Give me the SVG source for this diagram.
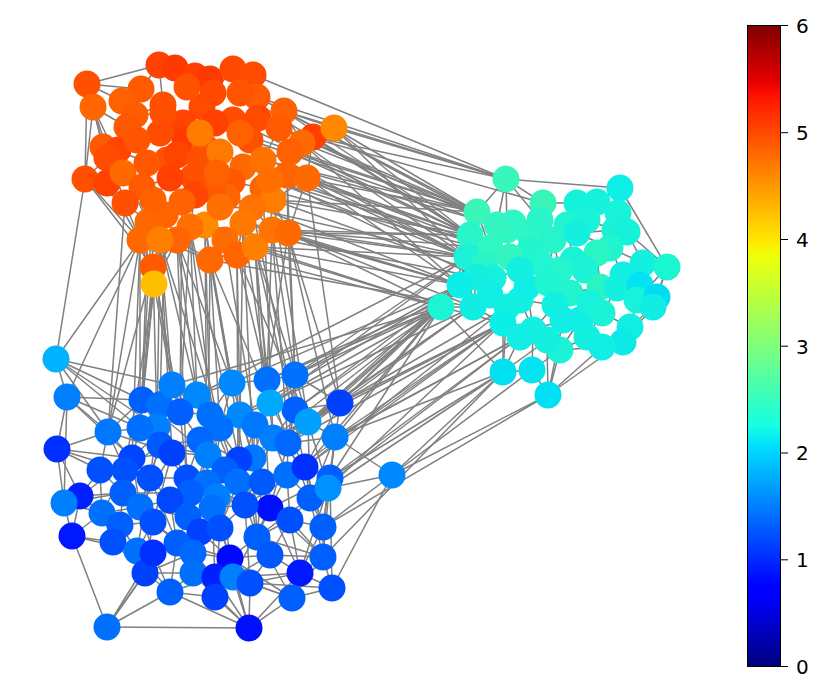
<svg xmlns="http://www.w3.org/2000/svg" width="830" height="699" viewBox="0 0 830 699">
<style>
#edges path{stroke:#808080;stroke-width:1.5;fill:none}
.n circle{stroke:none}
.tick{stroke:#000;stroke-width:1}
.lbl{font-family:"DejaVu Sans","Liberation Sans",sans-serif;font-size:20px;fill:#000}
</style>
<defs>
<linearGradient id="jet" x1="0" y1="1" x2="0" y2="0">
<stop offset="0" stop-color="#00007F"/>
<stop offset="0.11" stop-color="#0000FF"/>
<stop offset="0.125" stop-color="#0000FF"/>
<stop offset="0.34" stop-color="#00DBFF"/>
<stop offset="0.375" stop-color="#14FFE2"/>
<stop offset="0.5" stop-color="#7DFF7A"/>
<stop offset="0.64" stop-color="#EEFF08"/>
<stop offset="0.66" stop-color="#FFEC00"/>
<stop offset="0.89" stop-color="#FF1300"/>
<stop offset="0.91" stop-color="#E80000"/>
<stop offset="1" stop-color="#7F0000"/>
</linearGradient>
</defs>
<rect width="830" height="699" fill="#fff"/>
<g id="edges">
<path d="M87,84L159,65"/><path d="M87,84L141,89"/><path d="M87,84L85,179"/><path d="M87,84L122,101"/><path d="M93,107L127,127"/><path d="M93,107L103,147"/><path d="M159,65L175,68"/><path d="M159,65L141,89"/><path d="M175,68L187,87"/><path d="M195,76L210,79"/><path d="M210,79L213,93"/><path d="M233,69L253,75"/><path d="M233,69L240,93"/><path d="M253,75L257,97"/><path d="M257,97L284,111"/><path d="M284,111L279,128"/><path d="M284,111L334,128"/><path d="M334,128L313,137"/><path d="M313,137L307,178"/><path d="M302,143L287,175"/><path d="M279,128L263,160"/><path d="M85,179L107,183"/><path d="M107,183L125,203"/><path d="M125,203L148,222"/><path d="M148,222L140,240"/><path d="M140,240L153,267"/><path d="M153,267L154,284"/><path d="M154,284L160,240"/><path d="M153,267L177,240"/><path d="M93,107L125,203"/><path d="M93,107L148,222"/><path d="M85,179L140,240"/><path d="M85,179L153,267"/><path d="M107,158L85,179"/><path d="M307,178L288,233"/><path d="M288,233L273,200"/><path d="M237,255L272,230"/><path d="M210,260L205,225"/><path d="M237,255L243,223"/><path d="M255,247L288,233"/>
<path d="M185,140L183,123"/><path d="M185,140L160,133"/><path d="M185,140L200,133"/><path d="M185,140L177,155"/><path d="M185,140L205,147"/><path d="M185,140L167,160"/><path d="M170,178L193,177"/><path d="M170,178L167,160"/><path d="M170,178L142,187"/><path d="M170,178L153,200"/><path d="M170,178L182,202"/><path d="M200,160L205,147"/><path d="M200,160L220,152"/><path d="M200,160L193,177"/><path d="M200,160L217,173"/><path d="M200,160L177,155"/><path d="M232,182L217,173"/><path d="M232,182L243,167"/><path d="M232,182L227,197"/><path d="M232,182L263,188"/><path d="M232,182L212,190"/><path d="M252,208L273,200"/><path d="M252,208L243,223"/><path d="M252,208L220,207"/><path d="M252,208L227,197"/><path d="M252,208L272,230"/><path d="M290,152L302,143"/><path d="M290,152L263,160"/><path d="M290,152L287,175"/><path d="M290,152L279,128"/><path d="M290,152L313,137"/><path d="M258,118L257,97"/><path d="M258,118L279,128"/><path d="M258,118L233,120"/><path d="M258,118L250,140"/><path d="M258,118L240,133"/><path d="M135,115L122,101"/><path d="M135,115L127,127"/><path d="M135,115L141,89"/><path d="M135,115L163,113"/><path d="M135,115L163,105"/><path d="M118,150L103,147"/><path d="M118,150L137,140"/><path d="M118,150L107,158"/><path d="M118,150L123,173"/><path d="M118,150L147,163"/><path d="M195,195L182,202"/><path d="M195,195L212,190"/><path d="M195,195L193,177"/><path d="M195,195L190,227"/><path d="M195,195L220,207"/><path d="M165,215L153,200"/><path d="M165,215L148,222"/><path d="M165,215L160,240"/><path d="M165,215L177,240"/><path d="M165,215L182,202"/><path d="M225,240L205,225"/><path d="M225,240L243,223"/><path d="M225,240L237,255"/><path d="M225,240L210,260"/><path d="M225,240L190,227"/><path d="M87,84L103,147"/><path d="M93,107L85,179"/><path d="M122,101L123,173"/><path d="M141,89L127,127"/><path d="M159,65L163,105"/><path d="M175,68L202,107"/><path d="M210,79L202,107"/><path d="M253,75L240,93"/><path d="M233,69L213,93"/><path d="M284,111L302,143"/><path d="M334,128L302,143"/><path d="M313,137L287,175"/><path d="M307,178L273,200"/><path d="M287,175L288,233"/><path d="M270,180L272,230"/><path d="M263,188L243,223"/><path d="M288,233L255,247"/><path d="M272,230L237,255"/><path d="M255,247L210,260"/><path d="M160,240L140,240"/><path d="M177,240L210,260"/><path d="M148,222L160,240"/><path d="M125,203L140,240"/><path d="M107,183L140,240"/><path d="M142,187L148,222"/><path d="M85,179L125,203"/><path d="M154,284L140,240"/><path d="M154,284L177,240"/><path d="M153,267L160,240"/><path d="M153,267L190,227"/><path d="M210,260L160,240"/>
<path d="M334,128L506,179"/><path d="M334,128L477,212"/><path d="M334,128L470,235"/><path d="M334,128L467,257"/><path d="M284,111L506,179"/><path d="M284,111L477,212"/><path d="M313,137L470,235"/><path d="M313,137L490,248"/><path d="M302,143L467,257"/><path d="M302,143L460,285"/><path d="M287,175L477,212"/><path d="M287,175L470,235"/><path d="M307,178L490,248"/><path d="M307,178L467,257"/><path d="M307,178L460,285"/><path d="M288,233L470,235"/><path d="M288,233L467,257"/><path d="M288,233L441,307"/><path d="M272,230L490,248"/><path d="M272,230L460,285"/><path d="M273,200L477,212"/><path d="M273,200L493,278"/><path d="M243,223L467,257"/><path d="M255,247L441,307"/><path d="M255,247L460,285"/><path d="M279,128L507,230"/><path d="M253,75L506,179"/><path d="M263,160L497,225"/><path d="M243,167L490,248"/><path d="M263,188L510,257"/><path d="M250,140L507,230"/><path d="M240,133L477,212"/><path d="M233,120L470,235"/><path d="M270,180L467,257"/><path d="M220,152L477,277"/><path d="M212,190L460,285"/><path d="M237,255L441,307"/><path d="M210,260L473,307"/><path d="M205,225L477,277"/><path d="M202,107L543,203"/><path d="M240,93L470,235"/><path d="M215,123L467,257"/><path d="M257,97L506,179"/><path d="M284,111L497,225"/><path d="M288,233L473,307"/>
<path d="M290,152L477,212"/><path d="M290,152L470,235"/><path d="M302,143L477,212"/><path d="M313,137L506,179"/><path d="M307,178L470,235"/><path d="M287,175L467,257"/><path d="M273,200L470,235"/><path d="M252,208L467,257"/><path d="M288,233L460,285"/><path d="M272,230L470,235"/><path d="M263,160L477,212"/><path d="M270,180L490,248"/><path d="M284,111L470,235"/><path d="M279,128L477,212"/><path d="M255,247L467,257"/><path d="M225,240L441,307"/><path d="M243,223L460,285"/>
<path d="M154,284L172,385"/><path d="M154,284L142,400"/><path d="M153,267L157,427"/><path d="M153,267L108,432"/><path d="M140,240L56,359"/><path d="M140,240L67,397"/><path d="M85,179L56,359"/><path d="M160,240L172,385"/><path d="M160,240L197,395"/><path d="M177,240L232,383"/><path d="M190,227L197,395"/><path d="M210,260L232,383"/><path d="M210,260L270,403"/><path d="M237,255L267,380"/><path d="M255,247L295,375"/><path d="M255,247L270,403"/><path d="M272,230L295,375"/><path d="M288,233L340,403"/><path d="M288,233L267,380"/><path d="M243,223L240,415"/><path d="M205,225L210,415"/><path d="M182,202L180,412"/><path d="M148,222L142,400"/><path d="M153,200L140,428"/><path d="M140,240L140,428"/><path d="M153,267L180,412"/><path d="M177,240L220,428"/><path d="M237,255L308,422"/><path d="M273,200L308,422"/><path d="M272,230L288,443"/><path d="M190,227L239,460"/><path d="M210,260L208,455"/><path d="M160,240L172,453"/><path d="M140,240L132,458"/><path d="M243,223L253,458"/><path d="M255,247L305,467"/><path d="M288,233L335,437"/><path d="M154,284L125,470"/><path d="M160,240L245,505"/><path d="M177,240L187,478"/><path d="M210,260L257,537"/><path d="M190,227L230,558"/><path d="M255,247L270,508"/><path d="M125,203L108,432"/><path d="M307,178L340,403"/><path d="M287,175L295,375"/><path d="M263,188L273,438"/><path d="M237,255L238,482"/><path d="M205,225L207,483"/>
<path d="M165,215L160,405"/><path d="M225,240L255,425"/><path d="M252,208L295,410"/><path d="M237,255L240,415"/><path d="M210,260L220,428"/><path d="M255,247L267,380"/><path d="M272,230L267,380"/><path d="M153,267L142,400"/><path d="M154,284L140,428"/><path d="M160,240L157,427"/><path d="M177,240L197,395"/><path d="M190,227L180,412"/><path d="M205,225L232,383"/><path d="M288,233L295,375"/><path d="M243,223L270,403"/><path d="M140,240L108,432"/><path d="M148,222L172,385"/>
<path d="M295,375L441,307"/><path d="M295,375L460,285"/><path d="M340,403L441,307"/><path d="M340,403L473,307"/><path d="M340,403L503,323"/><path d="M335,437L441,307"/><path d="M335,437L503,323"/><path d="M335,437L503,372"/><path d="M308,422L460,285"/><path d="M308,422L473,307"/><path d="M305,467L503,323"/><path d="M305,467L441,307"/><path d="M330,478L503,372"/><path d="M330,478L520,337"/><path d="M392,475L503,372"/><path d="M392,475L548,395"/><path d="M392,475L532,370"/><path d="M267,380L441,307"/><path d="M267,380L493,278"/><path d="M270,403L467,257"/><path d="M270,403L473,307"/><path d="M273,438L441,307"/><path d="M288,443L503,323"/><path d="M328,488L503,372"/><path d="M310,498L520,337"/><path d="M232,383L460,285"/><path d="M197,395L467,257"/><path d="M323,527L548,395"/><path d="M323,557L503,372"/><path d="M330,478L441,307"/><path d="M340,403L460,285"/><path d="M305,467L507,307"/><path d="M335,437L533,330"/><path d="M288,443L441,307"/><path d="M308,422L503,323"/><path d="M328,488L503,323"/><path d="M172,385L441,307"/><path d="M240,415L477,277"/><path d="M253,458L473,307"/>
<path d="M295,410L441,307"/><path d="M295,410L460,285"/><path d="M287,475L503,323"/><path d="M340,403L507,307"/><path d="M335,437L520,337"/><path d="M308,422L441,307"/><path d="M295,375L467,257"/><path d="M270,403L441,307"/>
<path d="M506,179L620,188"/><path d="M506,179L477,212"/><path d="M506,179L543,203"/><path d="M506,179L540,220"/><path d="M506,179L497,225"/><path d="M620,188L618,213"/><path d="M620,188L667,267"/><path d="M620,188L597,202"/><path d="M620,188L627,232"/><path d="M477,212L470,235"/><path d="M477,212L497,225"/><path d="M477,212L467,257"/><path d="M543,203L577,203"/><path d="M577,203L597,202"/><path d="M597,202L618,213"/><path d="M618,213L627,232"/><path d="M627,232L643,263"/><path d="M627,232L667,267"/><path d="M567,225L587,220"/><path d="M587,220L577,233"/><path d="M470,235L467,257"/><path d="M470,235L490,248"/><path d="M507,230L530,235"/><path d="M507,230L510,257"/><path d="M530,235L553,240"/><path d="M553,240L567,225"/><path d="M553,240L548,283"/><path d="M490,248L510,257"/><path d="M510,257L520,270"/><path d="M467,257L460,285"/><path d="M467,257L441,307"/><path d="M610,248L643,263"/><path d="M643,263L667,267"/><path d="M667,267L657,297"/><path d="M667,267L653,307"/><path d="M667,267L637,300"/><path d="M623,275L617,288"/><path d="M597,253L573,260"/><path d="M573,260L540,263"/><path d="M540,263L520,270"/><path d="M520,270L493,278"/><path d="M493,278L477,277"/><path d="M460,285L441,307"/><path d="M477,277L473,307"/><path d="M441,307L473,307"/><path d="M441,307L503,323"/><path d="M441,307L503,372"/><path d="M473,307L507,307"/><path d="M507,307L527,287"/><path d="M527,287L548,283"/><path d="M548,283L570,293"/><path d="M570,293L600,287"/><path d="M600,287L617,288"/><path d="M617,288L637,300"/><path d="M637,300L657,297"/><path d="M657,297L653,307"/><path d="M653,307L630,327"/><path d="M653,307L623,342"/><path d="M503,323L533,330"/><path d="M533,330L563,320"/><path d="M563,320L590,303"/><path d="M590,303L602,313"/><path d="M602,313L630,327"/><path d="M630,327L623,342"/><path d="M623,342L602,347"/><path d="M587,337L602,347"/><path d="M602,347L560,350"/><path d="M560,350L547,340"/><path d="M547,340L520,337"/><path d="M520,337L503,323"/><path d="M503,372L532,370"/><path d="M532,370L548,395"/><path d="M548,395L560,350"/><path d="M503,372L503,323"/><path d="M532,370L533,330"/><path d="M548,395L547,340"/><path d="M548,395L602,347"/><path d="M503,372L520,337"/><path d="M532,370L560,350"/><path d="M513,223L497,225"/><path d="M540,220L513,223"/><path d="M577,233L610,248"/><path d="M567,225L573,260"/><path d="M503,372L507,307"/><path d="M548,395L563,320"/><path d="M503,372L547,340"/><path d="M473,307L503,323"/><path d="M460,285L473,307"/><path d="M623,342L587,337"/>
<path d="M530,250L530,235"/><path d="M530,250L540,263"/><path d="M530,250L510,257"/><path d="M530,250L553,240"/><path d="M530,250L520,270"/><path d="M555,305L548,283"/><path d="M555,305L570,293"/><path d="M555,305L563,320"/><path d="M555,305L533,330"/><path d="M555,305L520,300"/><path d="M585,270L573,260"/><path d="M585,270L597,253"/><path d="M585,270L600,287"/><path d="M585,270L570,293"/><path d="M585,270L560,270"/><path d="M490,295L493,278"/><path d="M490,295L473,307"/><path d="M490,295L507,307"/><path d="M490,295L503,323"/><path d="M490,295L477,277"/><path d="M615,230L627,232"/><path d="M615,230L610,248"/><path d="M615,230L618,213"/><path d="M615,230L587,220"/><path d="M615,230L577,233"/><path d="M640,285L623,275"/><path d="M640,285L643,263"/><path d="M640,285L637,300"/><path d="M640,285L617,288"/><path d="M640,285L657,297"/><path d="M520,300L507,307"/><path d="M520,300L527,287"/><path d="M520,300L533,330"/><path d="M520,300L520,270"/><path d="M580,320L563,320"/><path d="M580,320L590,303"/><path d="M580,320L587,337"/><path d="M580,320L560,350"/><path d="M560,270L540,263"/><path d="M560,270L573,260"/><path d="M560,270L548,283"/><path d="M560,270L553,240"/><path d="M485,265L490,248"/><path d="M485,265L467,257"/><path d="M485,265L493,278"/><path d="M485,265L510,257"/><path d="M485,265L460,285"/><path d="M477,212L490,248"/><path d="M506,179L507,230"/><path d="M543,203L553,240"/><path d="M577,203L567,225"/><path d="M597,202L587,220"/><path d="M618,213L610,248"/><path d="M643,263L623,275"/><path d="M623,275L637,300"/><path d="M597,253L600,287"/><path d="M610,248L623,275"/><path d="M617,288L602,313"/><path d="M637,300L630,327"/><path d="M600,287L590,303"/><path d="M570,293L563,320"/><path d="M527,287L533,330"/><path d="M507,307L503,323"/><path d="M460,285L477,277"/><path d="M533,330L547,340"/><path d="M587,337L560,350"/><path d="M602,313L587,337"/><path d="M630,327L602,347"/><path d="M623,342L548,395"/><path d="M470,235L460,285"/><path d="M467,257L473,307"/>
<path d="M56,359L67,397"/><path d="M56,359L108,432"/><path d="M56,359L142,400"/><path d="M67,397L108,432"/><path d="M67,397L57,449"/><path d="M67,397L64,503"/><path d="M108,432L57,449"/><path d="M108,432L142,400"/><path d="M108,432L140,428"/><path d="M57,449L64,503"/><path d="M57,449L132,458"/><path d="M80,496L64,503"/><path d="M80,496L102,513"/><path d="M64,503L72,536"/><path d="M102,513L72,536"/><path d="M102,513L113,542"/><path d="M72,536L113,542"/><path d="M72,536L107,627"/><path d="M113,542L137,551"/><path d="M137,551L145,573"/><path d="M145,573L170,592"/><path d="M170,592L107,627"/><path d="M107,627L249,628"/><path d="M170,592L249,628"/><path d="M249,628L250,583"/><path d="M249,628L292,598"/><path d="M249,628L215,597"/><path d="M142,400L172,385"/><path d="M142,400L157,427"/><path d="M172,385L197,395"/><path d="M197,395L232,383"/><path d="M232,383L267,380"/><path d="M267,380L295,375"/><path d="M295,375L340,403"/><path d="M270,403L240,415"/><path d="M240,415L210,415"/><path d="M210,415L180,412"/><path d="M180,412L157,427"/><path d="M157,427L140,428"/><path d="M140,428L132,458"/><path d="M340,403L308,422"/><path d="M308,422L335,437"/><path d="M335,437L288,443"/><path d="M288,443L273,438"/><path d="M273,438L253,458"/><path d="M253,458L239,460"/><path d="M239,460L208,455"/><path d="M208,455L172,453"/><path d="M172,453L132,458"/><path d="M132,458L125,470"/><path d="M125,470L150,478"/><path d="M150,478L187,478"/><path d="M187,478L207,483"/><path d="M207,483L238,482"/><path d="M238,482L305,467"/><path d="M305,467L330,478"/><path d="M330,478L310,498"/><path d="M310,498L328,488"/><path d="M328,488L392,475"/><path d="M392,475L323,527"/><path d="M392,475L335,437"/><path d="M392,475L332,588"/><path d="M270,508L245,505"/><path d="M245,505L212,508"/><path d="M212,508L188,517"/><path d="M188,517L140,507"/><path d="M332,588L323,557"/><path d="M323,557L323,527"/><path d="M323,527L310,498"/><path d="M300,573L292,598"/><path d="M292,598L332,588"/><path d="M300,573L323,557"/><path d="M250,583L300,573"/><path d="M332,588L330,478"/><path d="M233,577L292,598"/><path d="M193,573L145,573"/><path d="M170,592L215,597"/><path d="M123,493L80,496"/><path d="M125,470L123,493"/><path d="M57,449L80,496"/><path d="M113,542L153,553"/><path d="M137,551L153,522"/><path d="M102,513L140,507"/><path d="M64,503L123,493"/><path d="M72,536L137,551"/><path d="M67,397L132,458"/><path d="M56,359L140,428"/><path d="M108,432L125,470"/><path d="M107,627L145,573"/><path d="M323,527L305,467"/><path d="M300,573L270,508"/><path d="M323,557L257,537"/><path d="M292,598L230,558"/><path d="M249,628L233,577"/><path d="M340,403L330,478"/><path d="M335,437L328,488"/><path d="M270,403L305,467"/><path d="M308,422L288,443"/><path d="M295,375L308,422"/><path d="M172,453L140,507"/><path d="M180,412L132,458"/><path d="M157,427L150,478"/><path d="M172,385L180,412"/><path d="M197,395L210,415"/><path d="M232,383L220,428"/><path d="M267,380L270,403"/><path d="M240,415L239,460"/><path d="M220,428L208,455"/><path d="M253,458L238,482"/><path d="M208,455L190,493"/><path d="M187,478L188,517"/><path d="M207,483L217,497"/><path d="M238,482L245,505"/><path d="M305,467L310,498"/><path d="M270,508L257,537"/><path d="M245,505L220,528"/><path d="M212,508L220,528"/><path d="M188,517L177,543"/><path d="M140,507L153,522"/><path d="M153,522L177,543"/><path d="M177,543L193,553"/><path d="M193,553L230,558"/><path d="M230,558L233,577"/><path d="M233,577L250,583"/><path d="M250,583L215,577"/><path d="M215,577L193,573"/><path d="M193,573L215,597"/><path d="M153,553L145,573"/><path d="M257,537L230,558"/><path d="M220,528L230,558"/><path d="M190,493L123,493"/><path d="M217,497L212,508"/><path d="M150,478L140,507"/><path d="M273,438L245,505"/><path d="M288,443L310,498"/><path d="M330,478L323,557"/><path d="M310,498L257,537"/><path d="M270,508L323,557"/><path d="M132,458L140,507"/><path d="M328,488L323,527"/><path d="M215,597L233,577"/><path d="M170,592L193,573"/><path d="M145,573L193,553"/><path d="M137,551L150,478"/><path d="M113,542L140,507"/><path d="M102,513L125,470"/><path d="M80,496L132,458"/><path d="M108,432L172,453"/><path d="M142,400L172,453"/><path d="M140,428L187,478"/><path d="M210,415L238,482"/><path d="M240,415L253,458"/><path d="M273,438L305,467"/><path d="M340,403L273,438"/><path d="M308,422L328,488"/><path d="M267,380L288,443"/><path d="M107,627L153,553"/><path d="M249,628L215,577"/><path d="M332,588L250,583"/><path d="M300,573L249,628"/>
<path d="M160,445L172,453"/><path d="M160,445L140,428"/><path d="M160,445L150,478"/><path d="M160,445L157,427"/><path d="M160,445L208,455"/><path d="M160,445L125,470"/><path d="M160,445L140,507"/><path d="M160,445L200,440"/><path d="M200,440L210,415"/><path d="M200,440L220,428"/><path d="M200,440L208,455"/><path d="M200,440L187,478"/><path d="M200,440L172,453"/><path d="M200,440L239,460"/><path d="M200,440L180,412"/><path d="M255,425L240,415"/><path d="M255,425L273,438"/><path d="M255,425L253,458"/><path d="M255,425L270,403"/><path d="M255,425L288,443"/><path d="M255,425L238,482"/><path d="M255,425L262,482"/><path d="M225,470L239,460"/><path d="M225,470L207,483"/><path d="M225,470L238,482"/><path d="M225,470L217,497"/><path d="M225,470L245,505"/><path d="M225,470L208,455"/><path d="M225,470L212,508"/><path d="M170,500L150,478"/><path d="M170,500L187,478"/><path d="M170,500L188,517"/><path d="M170,500L153,522"/><path d="M170,500L190,493"/><path d="M170,500L140,507"/><path d="M170,500L177,543"/><path d="M262,482L238,482"/><path d="M262,482L270,508"/><path d="M262,482L253,458"/><path d="M262,482L287,475"/><path d="M262,482L245,505"/><path d="M262,482L257,537"/><path d="M287,475L305,467"/><path d="M287,475L288,443"/><path d="M287,475L310,498"/><path d="M287,475L290,520"/><path d="M287,475L270,508"/><path d="M287,475L273,438"/><path d="M290,520L270,508"/><path d="M290,520L310,498"/><path d="M290,520L323,527"/><path d="M290,520L323,557"/><path d="M290,520L257,537"/><path d="M290,520L300,573"/><path d="M290,520L270,555"/><path d="M200,532L188,517"/><path d="M200,532L220,528"/><path d="M200,532L193,553"/><path d="M200,532L177,543"/><path d="M200,532L212,508"/><path d="M200,532L230,558"/><path d="M270,555L257,537"/><path d="M270,555L230,558"/><path d="M270,555L233,577"/><path d="M270,555L250,583"/><path d="M270,555L300,573"/><path d="M270,555L323,557"/><path d="M120,525L102,513"/><path d="M120,525L113,542"/><path d="M120,525L140,507"/><path d="M120,525L153,522"/><path d="M120,525L137,551"/><path d="M120,525L123,493"/><path d="M160,405L142,400"/><path d="M160,405L172,385"/><path d="M160,405L157,427"/><path d="M160,405L180,412"/><path d="M160,405L197,395"/><path d="M295,410L295,375"/><path d="M295,410L270,403"/><path d="M295,410L308,422"/><path d="M295,410L340,403"/><path d="M295,410L288,443"/><path d="M295,410L273,438"/><path d="M100,470L108,432"/><path d="M100,470L57,449"/><path d="M100,470L125,470"/><path d="M100,470L80,496"/><path d="M100,470L102,513"/><path d="M100,470L132,458"/><path d="M100,470L123,493"/>
<path d="M56,359L157,427"/><path d="M67,397L140,428"/><path d="M108,432L150,478"/><path d="M142,400L208,455"/><path d="M172,385L220,428"/><path d="M197,395L239,460"/><path d="M232,383L253,458"/><path d="M267,380L273,438"/><path d="M295,375L288,443"/><path d="M240,415L238,482"/><path d="M210,415L207,483"/><path d="M180,412L187,478"/><path d="M157,427L172,453"/><path d="M220,428L212,508"/><path d="M340,403L305,467"/><path d="M308,422L310,498"/><path d="M335,437L330,478"/><path d="M288,443L270,508"/><path d="M253,458L257,537"/><path d="M239,460L220,528"/><path d="M208,455L188,517"/><path d="M172,453L153,522"/><path d="M132,458L150,478"/><path d="M125,470L140,507"/><path d="M150,478L177,543"/><path d="M187,478L193,553"/><path d="M207,483L230,558"/><path d="M238,482L257,537"/><path d="M305,467L323,527"/><path d="M330,478L323,527"/><path d="M310,498L323,557"/><path d="M328,488L300,573"/><path d="M270,508L233,577"/><path d="M245,505L250,583"/><path d="M212,508L215,577"/><path d="M188,517L193,573"/><path d="M140,507L153,553"/><path d="M153,522L145,573"/><path d="M220,528L215,597"/><path d="M257,537L292,598"/><path d="M177,543L170,592"/><path d="M193,553L215,597"/><path d="M230,558L249,628"/><path d="M233,577L300,573"/><path d="M250,583L292,598"/><path d="M215,577L170,592"/><path d="M193,573L249,628"/><path d="M300,573L332,588"/><path d="M323,557L292,598"/><path d="M323,527L300,573"/><path d="M153,553L170,592"/><path d="M190,493L212,508"/><path d="M123,493L140,507"/><path d="M217,497L245,505"/><path d="M113,542L145,573"/><path d="M137,551L170,592"/><path d="M145,573L107,627"/><path d="M80,496L72,536"/><path d="M64,503L102,513"/><path d="M57,449L125,470"/><path d="M67,397L142,400"/><path d="M56,359L172,385"/><path d="M305,467L245,505"/><path d="M330,478L270,508"/><path d="M335,437L310,498"/><path d="M340,403L288,443"/><path d="M308,422L273,438"/><path d="M270,403L253,458"/><path d="M232,383L210,415"/><path d="M197,395L180,412"/><path d="M172,385L157,427"/><path d="M208,455L238,482"/><path d="M172,453L187,478"/><path d="M187,478L212,508"/><path d="M207,483L245,505"/><path d="M238,482L220,528"/><path d="M188,517L220,528"/><path d="M153,522L193,553"/><path d="M177,543L230,558"/><path d="M193,553L215,577"/><path d="M230,558L250,583"/><path d="M233,577L215,597"/>
</g>
<g id="nodes" class="n">
<g id="o1"><circle cx="87" cy="84" r="13.5" fill="#FF5000"/></g>
<g id="o2"><circle cx="93" cy="107" r="13.5" fill="#FF6600"/></g>
<g id="o3"><circle cx="159" cy="65" r="13.5" fill="#FF4200"/></g>
<g id="o4"><circle cx="175" cy="68" r="13.5" fill="#FF3A00"/></g>
<g id="o5"><circle cx="195" cy="76" r="13.5" fill="#FF3E00"/></g>
<g id="o6"><circle cx="210" cy="79" r="13.5" fill="#FF3A00"/></g>
<g id="o7"><circle cx="233" cy="69" r="13.5" fill="#FF4800"/></g>
<g id="o8"><circle cx="253" cy="75" r="13.5" fill="#FF4A00"/></g>
<g id="o9"><circle cx="141" cy="89" r="13.5" fill="#FF5A00"/></g>
<g id="o10"><circle cx="122" cy="101" r="13.5" fill="#FF6000"/></g>
<g id="o79"><circle cx="135" cy="115" r="13.5" fill="#FF5C00"/></g>
<g id="o11"><circle cx="163" cy="105" r="13.5" fill="#FF5000"/></g>
<g id="o12"><circle cx="202" cy="107" r="13.5" fill="#FF4A00"/></g>
<g id="o13"><circle cx="257" cy="97" r="13.5" fill="#FF5A00"/></g>
<g id="o14"><circle cx="284" cy="111" r="13.5" fill="#FF6200"/></g>
<g id="o78"><circle cx="258" cy="118" r="13.5" fill="#FF4A00"/></g>
<g id="o16"><circle cx="313" cy="137" r="13.5" fill="#FF4000"/></g>
<g id="o15"><circle cx="334" cy="128" r="13.5" fill="#FF8800"/></g>
<g id="o17"><circle cx="302" cy="143" r="13.5" fill="#FF6A00"/></g>
<g id="o18"><circle cx="279" cy="128" r="13.5" fill="#FF5A00"/></g>
<g id="o77"><circle cx="290" cy="152" r="13.5" fill="#FF6000"/></g>
<g id="o19"><circle cx="250" cy="140" r="13.5" fill="#FF5000"/></g>
<g id="o20"><circle cx="233" cy="120" r="13.5" fill="#FF4C00"/></g>
<g id="o21"><circle cx="215" cy="123" r="13.5" fill="#FF4000"/></g>
<g id="o22"><circle cx="183" cy="123" r="13.5" fill="#FF4400"/></g>
<g id="o23"><circle cx="163" cy="113" r="13.5" fill="#FF5000"/></g>
<g id="o24"><circle cx="127" cy="127" r="13.5" fill="#FF5800"/></g>
<g id="o25"><circle cx="103" cy="147" r="13.5" fill="#FF5A00"/></g>
<g id="o80"><circle cx="118" cy="150" r="13.5" fill="#FF4400"/></g>
<g id="o26"><circle cx="107" cy="158" r="13.5" fill="#FF4C00"/></g>
<g id="o27"><circle cx="85" cy="179" r="13.5" fill="#FF5000"/></g>
<g id="o28"><circle cx="107" cy="183" r="13.5" fill="#FF4200"/></g>
<g id="o29"><circle cx="123" cy="173" r="13.5" fill="#FF6A00"/></g>
<g id="o30"><circle cx="142" cy="187" r="13.5" fill="#FF5A00"/></g>
<g id="o31"><circle cx="125" cy="203" r="13.5" fill="#FF5000"/></g>
<g id="o32"><circle cx="148" cy="222" r="13.5" fill="#FF6800"/></g>
<g id="o33"><circle cx="140" cy="240" r="13.5" fill="#FF6A00"/></g>
<g id="o34"><circle cx="153" cy="267" r="13.5" fill="#FF5A00"/></g>
<g id="o35"><circle cx="154" cy="284" r="13.5" fill="#FFBF00"/></g>
<g id="o72"><circle cx="185" cy="140" r="13.5" fill="#FF3C00"/></g>
<g id="o36"><circle cx="167" cy="160" r="13.5" fill="#FF5200"/></g>
<g id="o37"><circle cx="177" cy="155" r="13.5" fill="#FF4400"/></g>
<g id="o38"><circle cx="205" cy="147" r="13.5" fill="#FF5A00"/></g>
<g id="o74"><circle cx="200" cy="160" r="13.5" fill="#FF5000"/></g>
<g id="o39"><circle cx="220" cy="152" r="13.5" fill="#FF7A00"/></g>
<g id="o40"><circle cx="243" cy="167" r="13.5" fill="#FF6A00"/></g>
<g id="o41"><circle cx="263" cy="160" r="13.5" fill="#FF7200"/></g>
<g id="o42"><circle cx="287" cy="175" r="13.5" fill="#FF6400"/></g>
<g id="o43"><circle cx="307" cy="178" r="13.5" fill="#FF6A00"/></g>
<g id="o44"><circle cx="263" cy="188" r="13.5" fill="#FF6400"/></g>
<g id="o75"><circle cx="232" cy="182" r="13.5" fill="#FF5800"/></g>
<g id="o45"><circle cx="273" cy="200" r="13.5" fill="#FF7E00"/></g>
<g id="o76"><circle cx="252" cy="208" r="13.5" fill="#FF7400"/></g>
<g id="o46"><circle cx="243" cy="223" r="13.5" fill="#FF7800"/></g>
<g id="o47"><circle cx="227" cy="197" r="13.5" fill="#FF6400"/></g>
<g id="o48"><circle cx="212" cy="190" r="13.5" fill="#FF5A00"/></g>
<g id="o49"><circle cx="193" cy="177" r="13.5" fill="#FF5000"/></g>
<g id="o73"><circle cx="170" cy="178" r="13.5" fill="#FF4000"/></g>
<g id="o81"><circle cx="195" cy="195" r="13.5" fill="#FF4600"/></g>
<g id="o50"><circle cx="182" cy="202" r="13.5" fill="#FF6200"/></g>
<g id="o82"><circle cx="165" cy="215" r="13.5" fill="#FF6400"/></g>
<g id="o51"><circle cx="205" cy="225" r="13.5" fill="#FF8A00"/></g>
<g id="o52"><circle cx="190" cy="227" r="13.5" fill="#FF7000"/></g>
<g id="o53"><circle cx="177" cy="240" r="13.5" fill="#FF6400"/></g>
<g id="o54"><circle cx="160" cy="240" r="13.5" fill="#FF8000"/></g>
<g id="o83"><circle cx="225" cy="240" r="13.5" fill="#FF6C00"/></g>
<g id="o55"><circle cx="210" cy="260" r="13.5" fill="#FF6800"/></g>
<g id="o56"><circle cx="237" cy="255" r="13.5" fill="#FF6400"/></g>
<g id="o57"><circle cx="255" cy="247" r="13.5" fill="#FF8000"/></g>
<g id="o58"><circle cx="272" cy="230" r="13.5" fill="#FF7400"/></g>
<g id="o59"><circle cx="288" cy="233" r="13.5" fill="#FF6A00"/></g>
<g id="o60"><circle cx="220" cy="207" r="13.5" fill="#FF7000"/></g>
<g id="o61"><circle cx="153" cy="200" r="13.5" fill="#FF6000"/></g>
<g id="o62"><circle cx="160" cy="133" r="13.5" fill="#FF4C00"/></g>
<g id="o63"><circle cx="200" cy="133" r="13.5" fill="#FF7C00"/></g>
<g id="o64"><circle cx="240" cy="133" r="13.5" fill="#FF6000"/></g>
<g id="o65"><circle cx="213" cy="93" r="13.5" fill="#FF4800"/></g>
<g id="o66"><circle cx="240" cy="93" r="13.5" fill="#FF5400"/></g>
<g id="o67"><circle cx="187" cy="87" r="13.5" fill="#FF5200"/></g>
<g id="o68"><circle cx="270" cy="180" r="13.5" fill="#FF7000"/></g>
<g id="o69"><circle cx="147" cy="163" r="13.5" fill="#FF5800"/></g>
<g id="o70"><circle cx="217" cy="173" r="13.5" fill="#FF6000"/></g>
<g id="o71"><circle cx="137" cy="140" r="13.5" fill="#FF5400"/></g>
<g id="c1"><circle cx="506" cy="179" r="13.5" fill="#3AF5BC"/></g>
<g id="c2"><circle cx="620" cy="188" r="13.5" fill="#10EEE8"/></g>
<g id="c3"><circle cx="477" cy="212" r="13.5" fill="#3CF5B8"/></g>
<g id="c4"><circle cx="543" cy="203" r="13.5" fill="#3AF5B8"/></g>
<g id="c5"><circle cx="577" cy="203" r="13.5" fill="#14F2DC"/></g>
<g id="c6"><circle cx="597" cy="202" r="13.5" fill="#14F2DC"/></g>
<g id="c7"><circle cx="618" cy="213" r="13.5" fill="#18F2D8"/></g>
<g id="c63"><circle cx="615" cy="230" r="13.5" fill="#1AF2D8"/></g>
<g id="c8"><circle cx="627" cy="232" r="13.5" fill="#16F2DA"/></g>
<g id="c9"><circle cx="567" cy="225" r="13.5" fill="#20F5D0"/></g>
<g id="c10"><circle cx="587" cy="220" r="13.5" fill="#1CF2D6"/></g>
<g id="c11"><circle cx="470" cy="235" r="13.5" fill="#28F5CA"/></g>
<g id="c12"><circle cx="507" cy="230" r="13.5" fill="#2CF8C4"/></g>
<g id="c13"><circle cx="530" cy="235" r="13.5" fill="#30F5C6"/></g>
<g id="c14"><circle cx="553" cy="240" r="13.5" fill="#26F5CC"/></g>
<g id="c55"><circle cx="577" cy="233" r="13.5" fill="#14F0E0"/></g>
<g id="c56"><circle cx="540" cy="220" r="13.5" fill="#2AF5C8"/></g>
<g id="c57"><circle cx="513" cy="223" r="13.5" fill="#30F5C4"/></g>
<g id="c58"><circle cx="497" cy="225" r="13.5" fill="#34F5C0"/></g>
<g id="c15"><circle cx="490" cy="248" r="13.5" fill="#30F8C2"/></g>
<g id="c59"><circle cx="530" cy="250" r="13.5" fill="#20F5D0"/></g>
<g id="c16"><circle cx="510" cy="257" r="13.5" fill="#34F5BE"/></g>
<g id="c17"><circle cx="467" cy="257" r="13.5" fill="#1EF2D6"/></g>
<g id="c68"><circle cx="485" cy="265" r="13.5" fill="#2AF5C6"/></g>
<g id="c18"><circle cx="610" cy="248" r="13.5" fill="#20F5D0"/></g>
<g id="c19"><circle cx="643" cy="263" r="13.5" fill="#14F0E0"/></g>
<g id="c20"><circle cx="667" cy="267" r="13.5" fill="#1AF5D2"/></g>
<g id="c21"><circle cx="623" cy="275" r="13.5" fill="#12EEE4"/></g>
<g id="c22"><circle cx="597" cy="253" r="13.5" fill="#2AF5C4"/></g>
<g id="c23"><circle cx="573" cy="260" r="13.5" fill="#1AF2D8"/></g>
<g id="c61"><circle cx="585" cy="270" r="13.5" fill="#1CF2D6"/></g>
<g id="c24"><circle cx="540" cy="263" r="13.5" fill="#22F5D0"/></g>
<g id="c67"><circle cx="560" cy="270" r="13.5" fill="#24F5CC"/></g>
<g id="c25"><circle cx="520" cy="270" r="13.5" fill="#14F0E0"/></g>
<g id="c26"><circle cx="493" cy="278" r="13.5" fill="#16F0DC"/></g>
<g id="c28"><circle cx="477" cy="277" r="13.5" fill="#14F0E0"/></g>
<g id="c27"><circle cx="460" cy="285" r="13.5" fill="#0CEEE8"/></g>
<g id="c62"><circle cx="490" cy="295" r="13.5" fill="#10EEE6"/></g>
<g id="c29"><circle cx="441" cy="307" r="13.5" fill="#1CF5D4"/></g>
<g id="c30"><circle cx="473" cy="307" r="13.5" fill="#10EEE4"/></g>
<g id="c65"><circle cx="520" cy="300" r="13.5" fill="#14F0E0"/></g>
<g id="c31"><circle cx="507" cy="307" r="13.5" fill="#14F0E0"/></g>
<g id="c32"><circle cx="527" cy="287" r="13.5" fill="#10EEE6"/></g>
<g id="c33"><circle cx="548" cy="283" r="13.5" fill="#20F5D2"/></g>
<g id="c34"><circle cx="570" cy="293" r="13.5" fill="#22F5CE"/></g>
<g id="c60"><circle cx="555" cy="305" r="13.5" fill="#14F0E0"/></g>
<g id="c35"><circle cx="600" cy="287" r="13.5" fill="#2AF5C2"/></g>
<g id="c36"><circle cx="617" cy="288" r="13.5" fill="#14F0E0"/></g>
<g id="c64"><circle cx="640" cy="285" r="13.5" fill="#00E4F0"/></g>
<g id="c37"><circle cx="637" cy="300" r="13.5" fill="#18F2DA"/></g>
<g id="c38"><circle cx="657" cy="297" r="13.5" fill="#00DCF4"/></g>
<g id="c39"><circle cx="653" cy="307" r="13.5" fill="#10EEE4"/></g>
<g id="c40"><circle cx="503" cy="323" r="13.5" fill="#0CEEE8"/></g>
<g id="c41"><circle cx="533" cy="330" r="13.5" fill="#14F0E0"/></g>
<g id="c42"><circle cx="563" cy="320" r="13.5" fill="#10EEE6"/></g>
<g id="c66"><circle cx="580" cy="320" r="13.5" fill="#10EEE6"/></g>
<g id="c43"><circle cx="590" cy="303" r="13.5" fill="#18F2DA"/></g>
<g id="c44"><circle cx="602" cy="313" r="13.5" fill="#1CF2D6"/></g>
<g id="c45"><circle cx="630" cy="327" r="13.5" fill="#12EEE4"/></g>
<g id="c46"><circle cx="623" cy="342" r="13.5" fill="#0CEAE8"/></g>
<g id="c47"><circle cx="587" cy="337" r="13.5" fill="#14F0E0"/></g>
<g id="c48"><circle cx="602" cy="347" r="13.5" fill="#10EEE6"/></g>
<g id="c49"><circle cx="560" cy="350" r="13.5" fill="#1CF2D6"/></g>
<g id="c50"><circle cx="547" cy="340" r="13.5" fill="#14F0E0"/></g>
<g id="c51"><circle cx="520" cy="337" r="13.5" fill="#12EEE4"/></g>
<g id="c52"><circle cx="503" cy="372" r="13.5" fill="#00E0F0"/></g>
<g id="c53"><circle cx="532" cy="370" r="13.5" fill="#04E4F0"/></g>
<g id="c54"><circle cx="548" cy="395" r="13.5" fill="#00E0F4"/></g>
<g id="b1"><circle cx="56" cy="359" r="13.5" fill="#00B2FF"/></g>
<g id="b2"><circle cx="67" cy="397" r="13.5" fill="#0080FF"/></g>
<g id="b3"><circle cx="108" cy="432" r="13.5" fill="#0078FF"/></g>
<g id="b4"><circle cx="57" cy="449" r="13.5" fill="#0030FF"/></g>
<g id="b86"><circle cx="100" cy="470" r="13.5" fill="#0050FF"/></g>
<g id="b5"><circle cx="80" cy="496" r="13.5" fill="#0020FF"/></g>
<g id="b6"><circle cx="64" cy="503" r="13.5" fill="#0080FF"/></g>
<g id="b7"><circle cx="102" cy="513" r="13.5" fill="#0070FF"/></g>
<g id="b8"><circle cx="72" cy="536" r="13.5" fill="#0018FF"/></g>
<g id="b83"><circle cx="120" cy="525" r="13.5" fill="#0060FF"/></g>
<g id="b9"><circle cx="113" cy="542" r="13.5" fill="#0050FF"/></g>
<g id="b10"><circle cx="137" cy="551" r="13.5" fill="#0070FF"/></g>
<g id="b11"><circle cx="145" cy="573" r="13.5" fill="#0040FF"/></g>
<g id="b12"><circle cx="170" cy="592" r="13.5" fill="#0060FF"/></g>
<g id="b13"><circle cx="107" cy="627" r="13.5" fill="#0070FF"/></g>
<g id="b14"><circle cx="249" cy="628" r="13.5" fill="#0010FF"/></g>
<g id="b15"><circle cx="142" cy="400" r="13.5" fill="#0060FF"/></g>
<g id="b84"><circle cx="160" cy="405" r="13.5" fill="#0070FF"/></g>
<g id="b16"><circle cx="172" cy="385" r="13.5" fill="#0080FF"/></g>
<g id="b17"><circle cx="197" cy="395" r="13.5" fill="#0088FF"/></g>
<g id="b18"><circle cx="232" cy="383" r="13.5" fill="#0088FF"/></g>
<g id="b19"><circle cx="267" cy="380" r="13.5" fill="#0070FF"/></g>
<g id="b20"><circle cx="295" cy="375" r="13.5" fill="#0070FF"/></g>
<g id="b85"><circle cx="295" cy="410" r="13.5" fill="#0060FF"/></g>
<g id="b22"><circle cx="240" cy="415" r="13.5" fill="#008AFF"/></g>
<g id="b21"><circle cx="270" cy="403" r="13.5" fill="#00A8FF"/></g>
<g id="b23"><circle cx="210" cy="415" r="13.5" fill="#0070FF"/></g>
<g id="b24"><circle cx="180" cy="412" r="13.5" fill="#0060FF"/></g>
<g id="b25"><circle cx="157" cy="427" r="13.5" fill="#0080FF"/></g>
<g id="b26"><circle cx="140" cy="428" r="13.5" fill="#0070FF"/></g>
<g id="b27"><circle cx="220" cy="428" r="13.5" fill="#0070FF"/></g>
<g id="b75"><circle cx="255" cy="425" r="13.5" fill="#0078FF"/></g>
<g id="b28"><circle cx="340" cy="403" r="13.5" fill="#0040FF"/></g>
<g id="b29"><circle cx="308" cy="422" r="13.5" fill="#00A0FF"/></g>
<g id="b30"><circle cx="335" cy="437" r="13.5" fill="#0080FF"/></g>
<g id="b32"><circle cx="273" cy="438" r="13.5" fill="#0080FF"/></g>
<g id="b31"><circle cx="288" cy="443" r="13.5" fill="#0068FF"/></g>
<g id="b73"><circle cx="160" cy="445" r="13.5" fill="#0058FF"/></g>
<g id="b74"><circle cx="200" cy="440" r="13.5" fill="#0068FF"/></g>
<g id="b33"><circle cx="253" cy="458" r="13.5" fill="#0078FF"/></g>
<g id="b34"><circle cx="239" cy="460" r="13.5" fill="#0040FF"/></g>
<g id="b35"><circle cx="208" cy="455" r="13.5" fill="#0080FF"/></g>
<g id="b36"><circle cx="172" cy="453" r="13.5" fill="#0040FF"/></g>
<g id="b37"><circle cx="132" cy="458" r="13.5" fill="#0045FF"/></g>
<g id="b38"><circle cx="125" cy="470" r="13.5" fill="#0050FF"/></g>
<g id="b39"><circle cx="150" cy="478" r="13.5" fill="#0050FF"/></g>
<g id="b40"><circle cx="187" cy="478" r="13.5" fill="#0050FF"/></g>
<g id="b76"><circle cx="225" cy="470" r="13.5" fill="#0060FF"/></g>
<g id="b41"><circle cx="207" cy="483" r="13.5" fill="#0070FF"/></g>
<g id="b42"><circle cx="238" cy="482" r="13.5" fill="#0070FF"/></g>
<g id="b78"><circle cx="262" cy="482" r="13.5" fill="#0058FF"/></g>
<g id="b79"><circle cx="287" cy="475" r="13.5" fill="#0070FF"/></g>
<g id="b43"><circle cx="305" cy="467" r="13.5" fill="#0030FF"/></g>
<g id="b44"><circle cx="330" cy="478" r="13.5" fill="#0060FF"/></g>
<g id="b45"><circle cx="310" cy="498" r="13.5" fill="#0060FF"/></g>
<g id="b46"><circle cx="328" cy="488" r="13.5" fill="#0090FF"/></g>
<g id="b47"><circle cx="392" cy="475" r="13.5" fill="#0088FF"/></g>
<g id="b71"><circle cx="123" cy="493" r="13.5" fill="#0060FF"/></g>
<g id="b70"><circle cx="190" cy="493" r="13.5" fill="#0060FF"/></g>
<g id="b77"><circle cx="170" cy="500" r="13.5" fill="#0048FF"/></g>
<g id="b72"><circle cx="217" cy="497" r="13.5" fill="#0080FF"/></g>
<g id="b48"><circle cx="270" cy="508" r="13.5" fill="#0010FF"/></g>
<g id="b49"><circle cx="245" cy="505" r="13.5" fill="#0050FF"/></g>
<g id="b50"><circle cx="212" cy="508" r="13.5" fill="#0070FF"/></g>
<g id="b51"><circle cx="188" cy="517" r="13.5" fill="#0060FF"/></g>
<g id="b52"><circle cx="140" cy="507" r="13.5" fill="#0070FF"/></g>
<g id="b53"><circle cx="153" cy="522" r="13.5" fill="#0050FF"/></g>
<g id="b80"><circle cx="290" cy="520" r="13.5" fill="#0050FF"/></g>
<g id="b81"><circle cx="200" cy="532" r="13.5" fill="#0040FF"/></g>
<g id="b54"><circle cx="220" cy="528" r="13.5" fill="#0050FF"/></g>
<g id="b55"><circle cx="257" cy="537" r="13.5" fill="#0060FF"/></g>
<g id="b56"><circle cx="177" cy="543" r="13.5" fill="#0060FF"/></g>
<g id="b69"><circle cx="153" cy="553" r="13.5" fill="#0030FF"/></g>
<g id="b57"><circle cx="193" cy="553" r="13.5" fill="#0068FF"/></g>
<g id="b82"><circle cx="270" cy="555" r="13.5" fill="#0058FF"/></g>
<g id="b58"><circle cx="230" cy="558" r="13.5" fill="#0008FF"/></g>
<g id="b62"><circle cx="193" cy="573" r="13.5" fill="#0070FF"/></g>
<g id="b61"><circle cx="215" cy="577" r="13.5" fill="#0020FF"/></g>
<g id="b59"><circle cx="233" cy="577" r="13.5" fill="#0080FF"/></g>
<g id="b60"><circle cx="250" cy="583" r="13.5" fill="#0050FF"/></g>
<g id="b63"><circle cx="215" cy="597" r="13.5" fill="#0040FF"/></g>
<g id="b64"><circle cx="300" cy="573" r="13.5" fill="#0018FF"/></g>
<g id="b65"><circle cx="292" cy="598" r="13.5" fill="#0060FF"/></g>
<g id="b66"><circle cx="332" cy="588" r="13.5" fill="#0050FF"/></g>
<g id="b67"><circle cx="323" cy="557" r="13.5" fill="#0060FF"/></g>
<g id="b68"><circle cx="323" cy="527" r="13.5" fill="#0060FF"/></g>
</g>
<g id="colorbar">
<rect x="747.5" y="25.5" width="33" height="641" fill="url(#jet)" stroke="#000" stroke-width="1"/>
<path class="tick" d="M780.5,666.5H788M780.5,559.8H788M780.5,453H788M780.5,346.2H788M780.5,239.5H788M780.5,132.7H788M780.5,25.5H788"/>
<text class="lbl" x="796" y="673.5">0</text>
<text class="lbl" x="796" y="567">1</text>
<text class="lbl" x="796" y="460">2</text>
<text class="lbl" x="796" y="353.5">3</text>
<text class="lbl" x="796" y="246.5">4</text>
<text class="lbl" x="796" y="140">5</text>
<text class="lbl" x="796" y="32.5">6</text>
</g>
</svg>
